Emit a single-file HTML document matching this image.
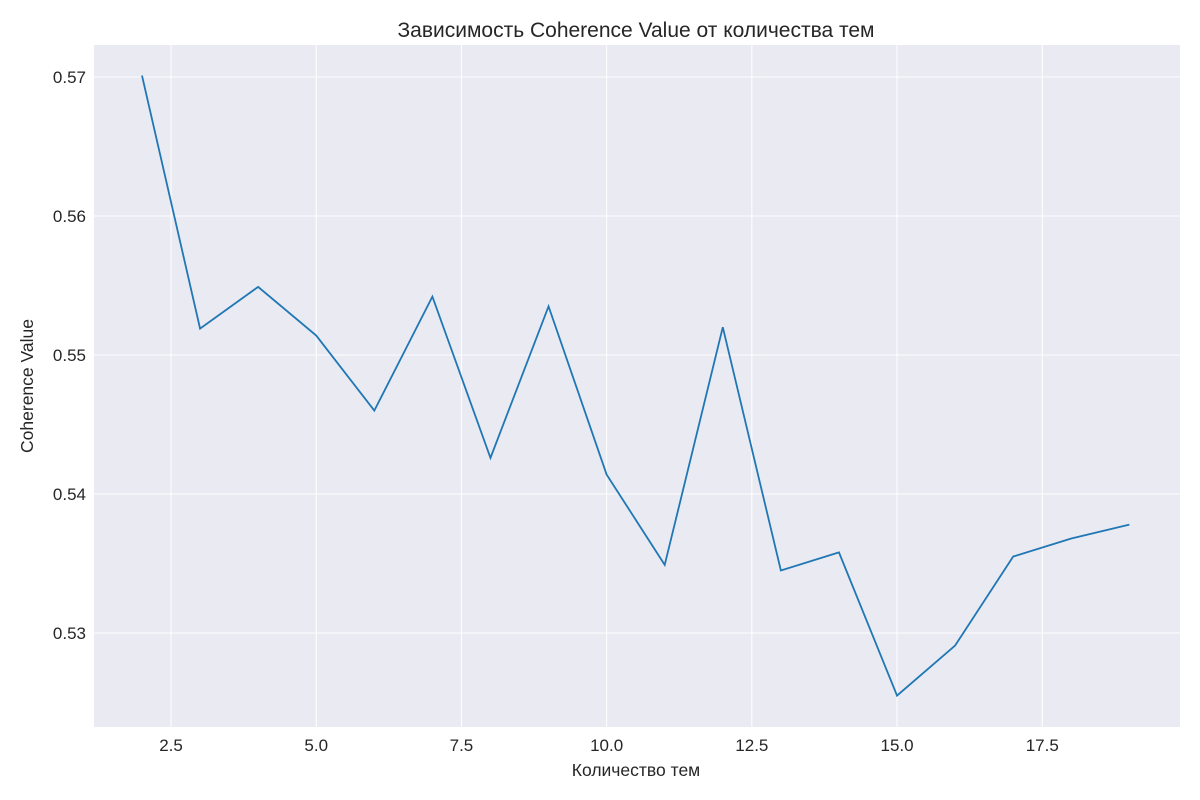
<!DOCTYPE html>
<html><head><meta charset="utf-8"><style>
html,body{margin:0;padding:0;background:#fff;}
svg{display:block;font-family:"Liberation Sans","DejaVu Sans",sans-serif;}
</style></head><body>
<svg id="chart" width="1200" height="800">
<rect x="94" y="45" width="1086" height="682" fill="#eaeaf2"/>
<g id="grid"></g>
<g id="ticks"></g>
<polyline id="line" fill="none" stroke="#1f77b4" stroke-width="1.8"/>
<text x="636" y="37" text-anchor="middle" font-size="21" fill="#262626">Зависимость Coherence Value от количества тем</text>
<text x="636" y="776" text-anchor="middle" font-size="17.5" fill="#262626">Количество тем</text>
<text x="33" y="386" text-anchor="middle" font-size="17.5" fill="#262626" transform="rotate(-90 33 386)">Coherence Value</text>
</svg>
<script>
const topics=[2,3,4,5,6,7,8,9,10,11,12,13,14,15,16,17,18,19];
const coherence=[0.5701,0.5519,0.5549,0.5514,0.5460,0.5542,0.5426,0.5535,0.5414,0.5349,0.5520,0.5345,0.5358,0.5255,0.5291,0.5355,0.5368,0.5378];
const xTicks=[2.5,5.0,7.5,10.0,12.5,15.0,17.5];
const yTicks=[0.53,0.54,0.55,0.56,0.57];
const L=94,R=1180,T=45,B=727;
const x0=1.1736,x1=19.872,y0=0.52324,y1=0.5723;
const sx=v=>L+(v-x0)/(x1-x0)*(R-L);
const sy=v=>B-(v-y0)/(y1-y0)*(B-T);
const NS='http://www.w3.org/2000/svg';
const grid=document.getElementById('grid'),ticks=document.getElementById('ticks');
xTicks.forEach(t=>{
 const l=document.createElementNS(NS,'line');
 l.setAttribute('x1',sx(t));l.setAttribute('x2',sx(t));l.setAttribute('y1',T);l.setAttribute('y2',B);
 l.setAttribute('stroke','#fff');l.setAttribute('stroke-width','1');
 
 
 grid.appendChild(l);
 const tx=document.createElementNS(NS,'text');
 tx.setAttribute('x',sx(t));tx.setAttribute('y',B+24);tx.setAttribute('text-anchor','middle');
 tx.setAttribute('font-size','17');tx.setAttribute('fill','#262626');tx.textContent=t.toFixed(1);
 
 
 ticks.appendChild(tx);
});
yTicks.forEach(t=>{
 const l=document.createElementNS(NS,'line');
 l.setAttribute('x1',L);l.setAttribute('x2',R);l.setAttribute('y1',sy(t));l.setAttribute('y2',sy(t));
 l.setAttribute('stroke','#fff');l.setAttribute('stroke-width','1');
 
 
 grid.appendChild(l);
 const tx=document.createElementNS(NS,'text');
 tx.setAttribute('x',L-8);tx.setAttribute('y',sy(t)+6);tx.setAttribute('text-anchor','end');
 tx.setAttribute('font-size','17');tx.setAttribute('fill','#262626');tx.textContent=t.toFixed(2);
 
 
 ticks.appendChild(tx);
});
document.getElementById('line').setAttribute('points',topics.map((t,i)=>sx(t)+','+sy(coherence[i])).join(' '));
</script>
</body></html>
